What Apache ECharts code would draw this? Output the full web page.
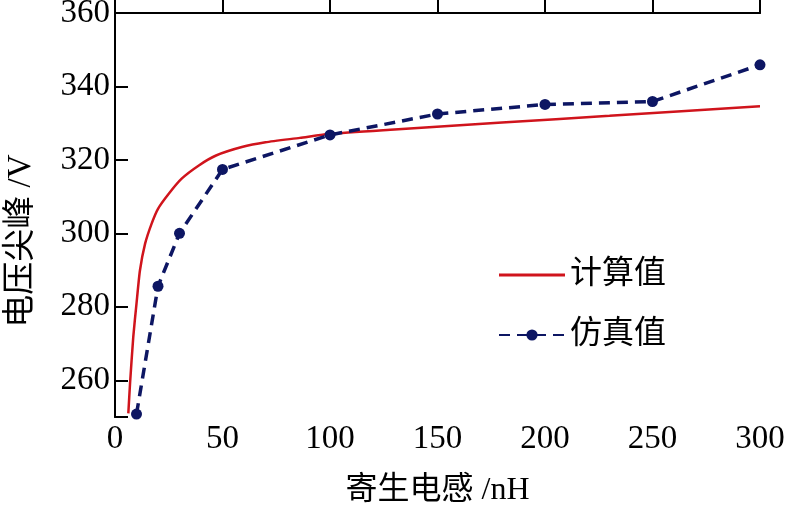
<!DOCTYPE html>
<html>
    <head>
        <meta charset="UTF-8">
        <title></title>
        <script type="text/javascript" src="https://cdn.jsdelivr.net/npm/echarts@6/dist/echarts.min.js"></script>
    </head>
    <body style="margin:0;background:#fff;">
        <div id="main" style="width: 785px;height:512px;"></div>
    </body>
</html>
<script type="text/javascript">
        // 计算值曲线 (读图取点)
        var calcX = [6.2, 7, 8.5, 10, 11.6, 14, 17, 20, 25, 31, 39, 47, 59, 70, 86, 100, 130, 180, 230, 300];
        var calcY = [251, 259.2, 271.8, 280.9, 289.9, 297.2, 302.6, 306.7, 310.8, 314.9, 318.5, 321.2, 323.5, 324.8, 326, 327.1, 328.3, 330.2, 332, 334.6];
        // 仿真值
        var simX = [10, 20, 30, 50, 100, 150, 200, 250, 300];
        var simY = [250.8, 285.6, 300, 317.4, 326.8, 332.5, 335.1, 335.9, 345.9];
        var yMin = 250, yMax = 360, yStep = 20;
        var xMin = 0, xMax = 300, xStep = 50;

        function pairs(xs, ys) {
                var out = [];
                for (var i = 0; i < xs.length; i++) {
                        out.push([xs[i], ys[i]]);
                }
                return out;
        }

        var serif = '"Liberation Serif", "Noto Sans CJK SC", serif';
        var red = '#d0141c';
        var navy = '#0d1663';
        function blackLine(show) {
                return { show: show, lineStyle: { color: '#000', width: 2 } };
        }
        function blackTick(show) {
                return { show: show, inside: true, length: 13, lineStyle: { color: '#000', width: 2 } };
        }
        function labelStyle(m) {
                return { margin: m, fontFamily: serif, fontSize: 33, color: '#000' };
        }
        // 上边框 / 右边框用空轴画
        function frameAxis(pos, min, max) {
                return {
                        type: 'value',
                        position: pos,
                        min: min,
                        max: max,
                        axisLine: blackLine(true),
                        axisTick: { show: false },
                        axisLabel: { show: false },
                        splitLine: { show: false }
                };
        }

        var yLabel = labelStyle(5);
        yLabel.formatter = function (v) {
                return v % yStep === 0 ? String(v) : '';
        };

        var myChart = echarts.init(document.getElementById('main'));
        option = {
                animation: false,
                grid: {
                        left: 115,
                        right: 25,
                        top: 13,
                        bottom: 95,
                        outerBoundsMode: 'none'
                },
                legend: {
                        orient: 'vertical',
                        left: 493,
                        top: 254,
                        itemWidth: 66,
                        itemHeight: 14,
                        itemGap: 28,
                        textStyle: {
                                fontFamily: serif,
                                fontSize: 32,
                                lineHeight: 32,
                                color: '#000'
                        },
                        data: [
                                { name: '计算值', icon: 'path://M0,0L66,0L66,3L0,3Z' },
                                { name: '仿真值' }
                        ]
                },
                xAxis: [{
                        type: 'value',
                        position: 'bottom',
                        min: xMin,
                        max: xMax,
                        interval: xStep,
                        name: '寄生电感 /nH',
                        nameLocation: 'middle',
                        nameGap: 58,
                        nameTextStyle: { fontFamily: serif, fontSize: 32, color: '#000' },
                        axisLine: blackLine(true),
                        axisTick: blackTick(true),
                        axisLabel: labelStyle(6),
                        splitLine: { show: false }
                }, frameAxis('top', xMin, xMax)],
                yAxis: [{
                        type: 'value',
                        position: 'left',
                        min: yMin,
                        max: yMax,
                        interval: 10,
                        name: '电压尖峰 /V',
                        nameLocation: 'middle',
                        nameGap: 77,
                        nameTextStyle: {
                                fontFamily: serif,
                                fontSize: 33,
                                color: '#000',
                                padding: [0, 52, 0, 0]
                        },
                        axisLine: blackLine(true),
                        axisTick: { show: false },
                        axisLabel: yLabel,
                        splitLine: { show: false }
                }, frameAxis('right', yMin, yMax), {
                        // 只画刻度: 反向轴从顶端(360)往下每 20 一格
                        type: 'value',
                        position: 'left',
                        inverse: true,
                        min: 0,
                        max: yMax - yMin,
                        interval: yStep,
                        axisLine: blackLine(false),
                        axisTick: blackTick(true),
                        axisLabel: { show: false },
                        splitLine: { show: false }
                }],
                series: [{
                        name: '计算值',
                        type: 'line',
                        smooth: 0.2,
                        showSymbol: false,
                        symbol: 'none',
                        data: pairs(calcX, calcY),
                        lineStyle: { color: red, width: 2.5 },
                        itemStyle: { color: red }
                }, {
                        name: '仿真值',
                        type: 'line',
                        symbol: 'circle',
                        symbolSize: 11,
                        data: pairs(simX, simY),
                        lineStyle: { color: navy, width: 3.5, type: [11, 7] },
                        itemStyle: { color: navy }
                }]
        };
        myChart.setOption(option);
</script>
